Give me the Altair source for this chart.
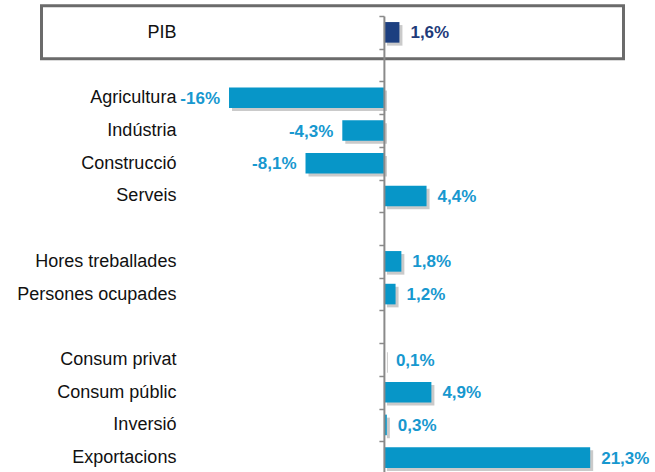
import altair as alt
import pandas as pd

categories = ["PIB", " ", "Agricultura", "Indústria", "Construcció", "Serveis", "  ",
              "Hores treballades", "Persones ocupades", "   ",
              "Consum privat", "Consum públic", "Inversió", "Exportacions"]
bar_cats = ["PIB", "Agricultura", "Indústria", "Construcció", "Serveis",
            "Hores treballades", "Persones ocupades",
            "Consum privat", "Consum públic", "Inversió", "Exportacions"]
values = [1.6, -16, -4.3, -8.1, 4.4, 1.8, 1.2, 0.1, 4.9, 0.3, 21.3]
labels = ["1,6%", "-16%", "-4,3%", "-8,1%", "4,4%", "1,8%", "1,2%",
          "0,1%", "4,9%", "0,3%", "21,3%"]
bar_colors = ["#1c3f80"] + ["#0796c8"] * 10
text_colors = ["#1f3b7a"] + ["#1798cf"] * 10

df = pd.DataFrame({"cat": bar_cats, "value": values, "label": labels,
                   "barc": bar_colors, "txtc": text_colors})

FONT = "Liberation Sans"
xscale = alt.Scale(domain=[-20.65, 25], nice=False)
yscale = alt.Scale(domain=categories, paddingInner=0, paddingOuter=0)

y_enc = alt.Y("cat:N", sort=None, scale=yscale,
              axis=alt.Axis(title=None, offset=-199.9, domain=True,
                            domainColor="#8a8a8a", domainWidth=2,
                            ticks=True, tickBand="extent", tickSize=5,
                            tickColor="#8a8a8a", tickWidth=1.5, grid=False,
                            labelFont=FONT, labelFontSize=18, labelColor="#111111",
                            labelPadding=203, zindex=1))
x_enc = alt.X("value:Q", scale=xscale, axis=None)

box = alt.Chart(pd.DataFrame({"k": [0]})).mark_rect(
    fill="white", stroke="#6b6b6b", strokeWidth=3
).encode(x=alt.value(-142.5), x2=alt.value(439.5),
         y=alt.value(-10.2), y2=alt.value(42.8))

shadow = alt.Chart(df).mark_bar(
    size=20.6, color="#7a7a7a", opacity=0.4, xOffset=3, yOffset=3
).encode(x=x_enc, y=y_enc)

bars = alt.Chart(df).mark_bar(size=20.6).encode(
    x=x_enc, y=y_enc,
    color=alt.Color("barc:N", scale=None))

pos_text = alt.Chart(df).transform_filter("datum.value >= 0").mark_text(
    align="left", baseline="middle", dx=11, dy=1, font=FONT, fontSize=17,
    fontWeight="bold").encode(
    x=x_enc, y=y_enc, text="label:N", color=alt.Color("txtc:N", scale=None))

neg_text = alt.Chart(df).transform_filter("datum.value < 0").mark_text(
    align="right", baseline="middle", dx=-9, dy=1, font=FONT, fontSize=17,
    fontWeight="bold").encode(
    x=x_enc, y=y_enc, text="label:N", color=alt.Color("txtc:N", scale=None))

chart = alt.layer(box, shadow, bars, pos_text, neg_text).properties(
    width=442, height=458,
    autosize=alt.AutoSizeParams(type="none"),
    padding={"left": 184, "top": 16, "right": 29, "bottom": 0},
    background="white"
).configure_view(strokeWidth=0)

chart.save("out.html", embed_options={"renderer": "svg", "actions": False})
